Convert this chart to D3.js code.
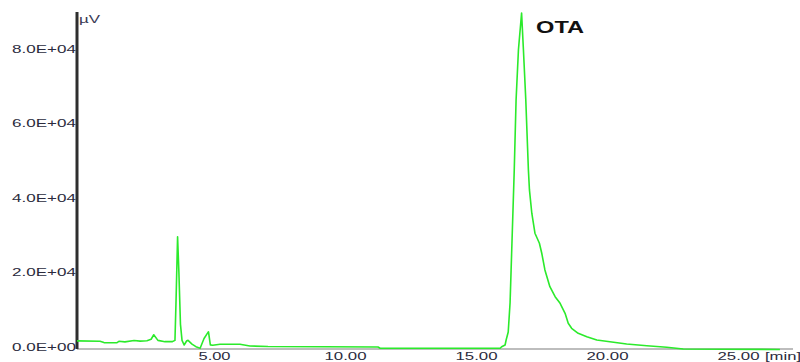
<!DOCTYPE html>
<html>
<head>
    <meta charset="utf-8">
    <script src="https://cdn.jsdelivr.net/npm/d3@7"></script>
    <title>OTA chromatogram</title>
    <style>
        body { margin: 0; background: #fff; }
        svg { display: block; font-family: "Liberation Sans", Arial, sans-serif; }
    </style>
</head>
<body>
<svg width="800" height="362"></svg>

<script>
    // retention time (min) and detector signal (µV)
    const retentionTime = [
        -0.23, 0.65, 0.80, 1.03, 1.30, 1.37, 1.60, 1.95, 2.18, 2.44, 2.60, 2.70, 2.86, 3.13, 3.40,
        3.51, 3.55, 3.61, 3.66, 3.72, 3.78, 3.86, 3.96, 4.01, 4.16, 4.31, 4.47, 4.62, 4.74, 4.79,
        4.86, 4.95, 5.23, 5.99, 6.37, 7.06, 11.26, 11.34, 15.92, 15.98, 16.11, 16.15, 16.23, 16.30,
        16.34, 16.46, 16.53, 16.62, 16.74, 16.81, 16.90, 17.00, 17.04, 17.13, 17.25, 17.42, 17.51,
        17.63, 17.82, 18.02, 18.21, 18.40, 18.52, 18.65, 18.90, 19.23, 19.61, 20.11, 20.75, 21.52,
        22.28, 22.91, 26.60
    ];
    const signal = [
        1550, 1450, 1100, 1080, 1100, 1450, 1300, 1650, 1500, 1600, 2000, 3200, 1700, 1350, 1350,
        1700, 12000, 29500, 20000, 6000, 1700, 460, 1600, 1700, 700, 0, -430, 2200, 3500, 4000,
        500, 400, 650, 650, 190, 50, -80, -430, -430, 0, 460, 1800, 3950, 11730,
        20590, 47440, 66260, 79680, 89520, 79680, 66260, 47440, 42070, 35820, 30450, 27760, 25080,
        20590, 16110, 13430, 11650, 8970, 6280, 4940, 3600, 2690, 1800, 1340, 725, 270,
        -160, -620, -750
    ];

    const xTicks = [5, 10, 15, 20, 25];
    const xTickLabels = ["5.00", "10.00", "15.00", "20.00", "25.00"];
    const yTicks = [0, 20000, 40000, 60000, 80000];
    const yTickLabels = ["0.0E+00", "2.0E+04", "4.0E+04", "6.0E+04", "8.0E+04"];
    const peakName = "OTA";
    const peakTime = 16.74;

    const tMin = -0.23, tMax = 27.1;

    const svg = d3.select("svg");

    const x = d3.scaleLinear().domain([0, 25]).range([83, 738]);
    const y = d3.scaleLinear().domain([0, 80000]).range([346.7, 48.6]);

    // x axis : gray base line
    svg.append("line")
        .attr("x1", x(tMin)).attr("x2", x(tMax))
        .attr("y1", 349).attr("y2", 349)
        .attr("stroke", "#bdbdbd").attr("stroke-width", 2);

    const xAxis = svg.append("g")
        .attr("transform", "translate(0,349)")
        .call(d3.axisBottom(x).tickValues(xTicks).tickSize(0)
            .tickFormat((d, i) => xTickLabels[i]));
    xAxis.select(".domain").remove();
    xAxis.selectAll("text")
        .attr("y", 0).attr("dy", "11px")
        .style("font-size", "11.5px").attr("fill", "#2b2b3d")
        .attr("textLength", (d, i) => i === 0 ? 32 : 42)
        .attr("lengthAdjust", "spacingAndGlyphs");

    svg.append("text")
        .attr("x", 765).attr("y", 360)
        .attr("textLength", 36).attr("lengthAdjust", "spacingAndGlyphs")
        .style("font-size", "11.5px").attr("fill", "#2b2b3d")
        .text("[min]");

    // y axis
    const yAxis = svg.append("g")
        .attr("transform", "translate(77,0)")
        .call(d3.axisLeft(y).tickValues(yTicks).tickSize(0)
            .tickFormat((d, i) => yTickLabels[i]));
    yAxis.select(".domain").remove();
    yAxis.selectAll("text")
        .attr("x", -1).attr("dy", "0.36em")
        .style("font-size", "10.5px").attr("fill", "#2b2b3d")
        .attr("textLength", 64)
        .attr("lengthAdjust", "spacingAndGlyphs");

    svg.append("line")
        .attr("x1", 77).attr("x2", 77)
        .attr("y1", y(89800)).attr("y2", 349)
        .attr("stroke", "#2e2e2e").attr("stroke-width", 3);

    svg.append("text")
        .attr("x", 79).attr("y", 22.5)
        .attr("textLength", 21).attr("lengthAdjust", "spacingAndGlyphs")
        .style("font-size", "11.5px").attr("fill", "#3a3a55")
        .text("µV");

    // chromatogram trace
    const line = d3.line()
        .x(d => x(d[0]))
        .y(d => y(d[1]));

    svg.append("path")
        .datum(d3.zip(retentionTime, signal))
        .attr("d", line)
        .attr("fill", "none")
        .attr("stroke", "#2bea2b")
        .attr("stroke-width", 1.6)
        .attr("stroke-linejoin", "round");

    svg.append("text")
        .attr("x", x(peakTime) + 14.5).attr("y", 33.3)
        .attr("textLength", 48).attr("lengthAdjust", "spacingAndGlyphs")
        .style("font-size", "16px").style("font-weight", "bold")
        .attr("fill", "#111")
        .text(peakName);
</script>
</body>
</html>
